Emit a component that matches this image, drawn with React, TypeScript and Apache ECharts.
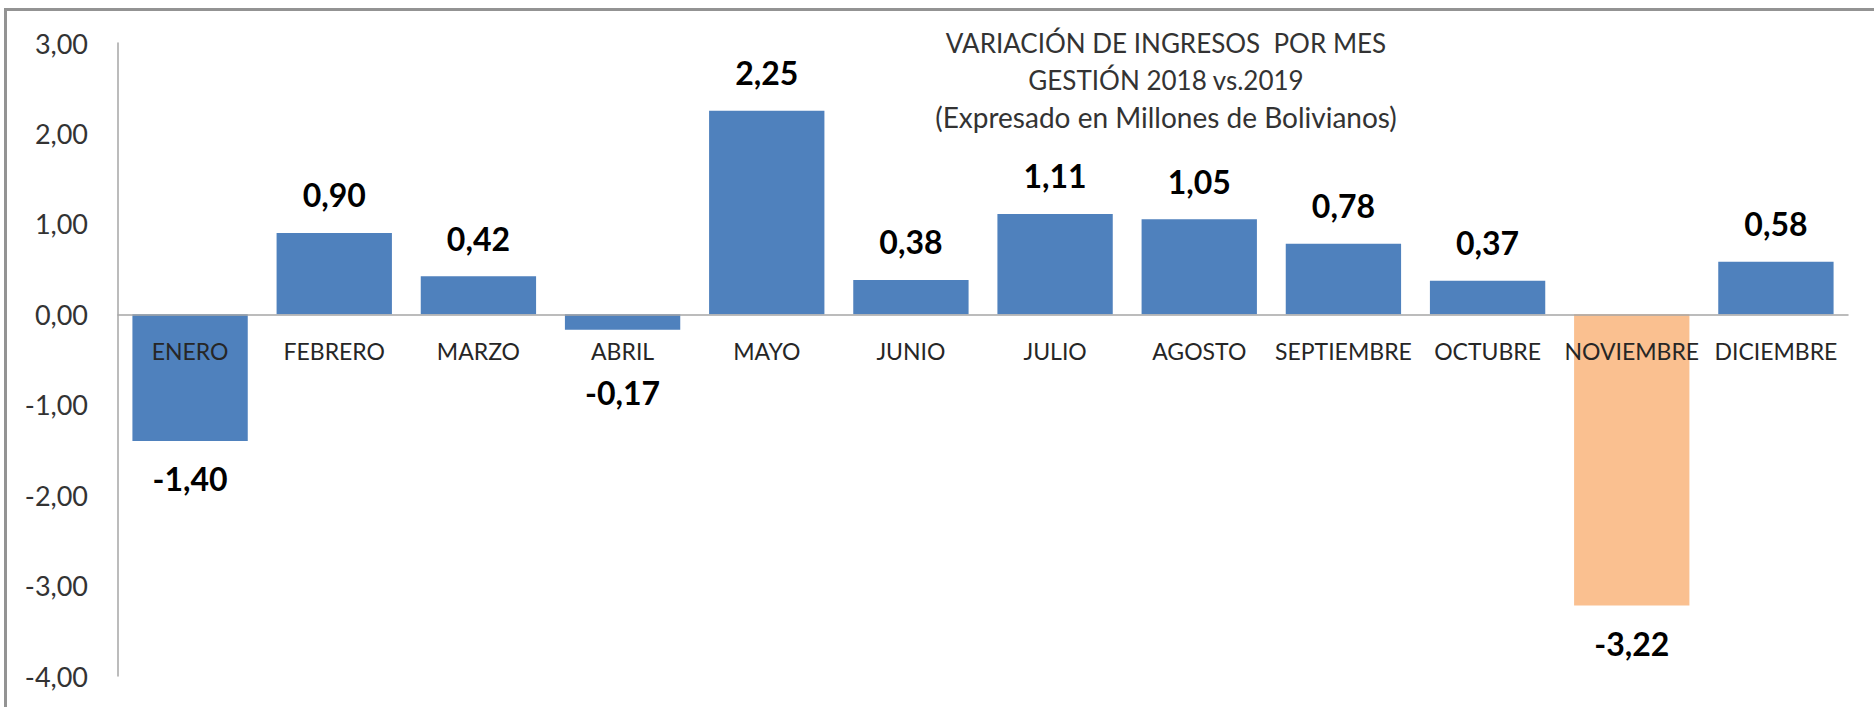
import React, { useEffect, useRef } from "react";
import * as echarts from "echarts";

const months = [
  "ENERO", "FEBRERO", "MARZO", "ABRIL", "MAYO", "JUNIO",
  "JULIO", "AGOSTO", "SEPTIEMBRE", "OCTUBRE", "NOVIEMBRE", "DICIEMBRE",
];
const variation = [-1.4, 0.9, 0.42, -0.17, 2.25, 0.38, 1.11, 1.05, 0.78, 0.37, -3.22, 0.58];
const yMin = -4;
const yMax = 3;
const yStep = 1;
const titleLines = [
  "VARIACIÓN DE INGRESOS  POR MES",
  "GESTIÓN 2018 vs.2019",
  "(Expresado en Millones de Bolivianos)",
];
const highlightMonth = "NOVIEMBRE";
const shiftedLabelMonth = "ABRIL";

const BLUE = "#4F81BD";
const ORANGE = "#FAC090";
const FONT = "Lato, 'Open Sans', sans-serif";

const GRID = { left: 118, right: 26, top: 43, bottom: 31 };
const HEIGHT = 707;

const fmt = (v: number) => v.toFixed(2).replace(".", ",");

export default function App() {
  const ref = useRef<HTMLDivElement>(null);

  useEffect(() => {
    if (!ref.current) return;
    const chart = echarts.init(ref.current, null, { renderer: "svg" });

    const gridHeight = HEIGHT - GRID.top - GRID.bottom;
    const zeroOffset = -(gridHeight * (0 - yMin)) / (yMax - yMin);

    const data = variation.map((v, i) => ({
      value: v,
      itemStyle: { color: months[i] === highlightMonth ? ORANGE : BLUE },
      label: {
        position: v >= 0 ? "top" : "bottom",
        distance: months[i] === shiftedLabelMonth ? 47 : 22,
      },
    }));

    const titleBase = {
      fontFamily: FONT,
      fontWeight: "normal",
      color: "#333333",
      lineHeight: 37,
      align: "center",
    };

    chart.setOption({
      animation: false,
      backgroundColor: "#ffffff",
      title: {
        text: `{a|${titleLines[0]}}\n{a|${titleLines[1]}}\n{b|${titleLines[2]}}`,
        left: 1166,
        top: 24,
        padding: 0,
        textAlign: "center",
        textStyle: {
          ...titleBase,
          fontSize: 26,
          rich: {
            a: { ...titleBase, fontSize: 26 },
            b: { ...titleBase, fontSize: 28 },
          },
        },
      },
      graphic: [
        {
          type: "rect",
          shape: { x: 5.5, y: 9.5, width: 1900, height: 760 },
          style: { fill: "none", stroke: "#939393", lineWidth: 3 },
          silent: true,
          z: 100,
        },
      ],
      grid: {
        ...GRID,
        containLabel: false,
        outerBoundsMode: "none",
      },
      xAxis: {
        type: "category",
        data: months,
        z: 10,
        offset: zeroOffset,
        axisLine: { onZero: false, lineStyle: { color: "#a6a6a6", width: 1.5 } },
        axisTick: { show: false },
        axisLabel: {
          interval: 0,
          margin: 25,
          fontFamily: FONT,
          fontSize: 23,
          color: "#262626",
        },
        splitLine: { show: false },
      },
      yAxis: {
        type: "value",
        min: yMin,
        max: yMax,
        interval: yStep,
        axisLine: { show: true, lineStyle: { color: "#a6a6a6", width: 1.5 } },
        axisTick: { show: false },
        splitLine: { show: false },
        axisLabel: {
          formatter: (v: number) => fmt(v),
          margin: 30,
          fontFamily: FONT,
          fontSize: 27,
          color: "#333333",
        },
      },
      series: [
        {
          type: "bar",
          data,
          barCategoryGap: "20%",
          label: {
            show: true,
            formatter: (p: any) => fmt(p.value),
            fontFamily: FONT,
            fontSize: 32,
            fontWeight: "bold",
            color: "#000000",
          },
        },
      ],
    });

    return () => chart.dispose();
  }, []);

  return (
    <div
      ref={ref}
      style={{ position: "fixed", left: 0, top: 0, width: 1874, height: 707 }}
    />
  );
}
